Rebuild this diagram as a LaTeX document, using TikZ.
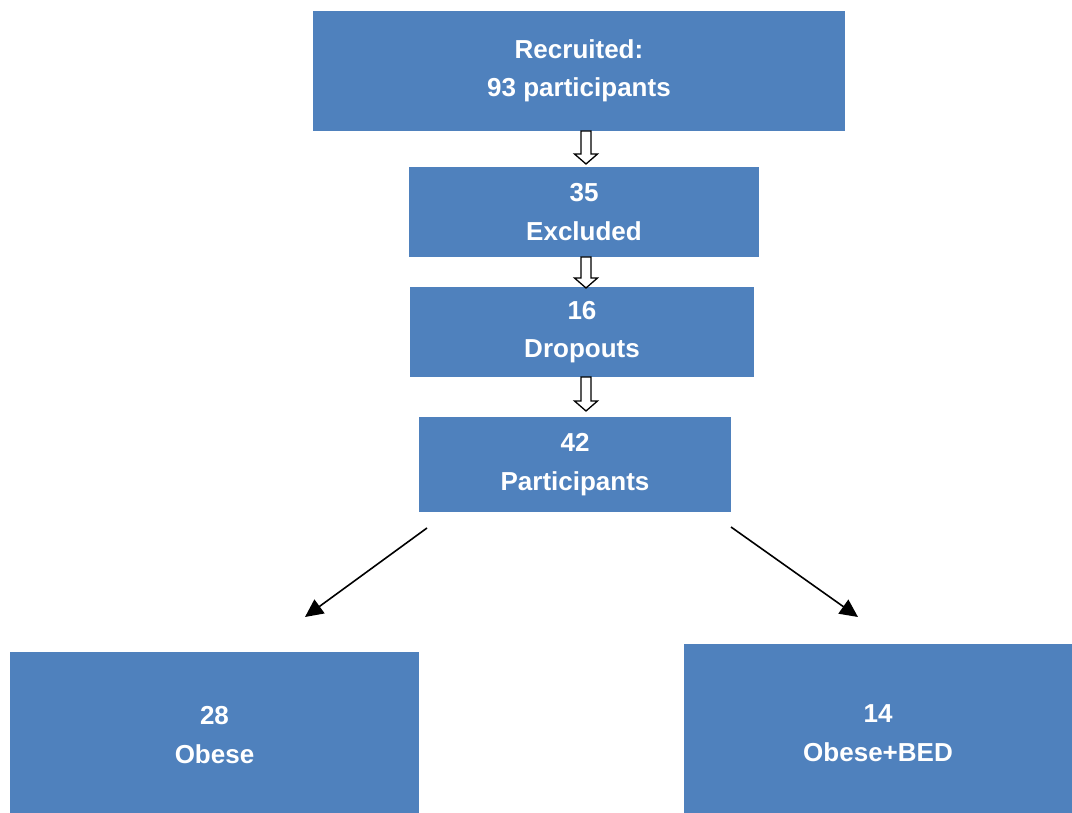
\documentclass[tikz,border=0pt]{standalone}
\usepackage{fontspec}
\setmainfont{Liberation Sans}
\usetikzlibrary{calc,arrows.meta}
\definecolor{boxblue}{HTML}{4F81BD}
\tikzset{
  box/.style={fill=boxblue, draw=none, text=white, font=\bfseries\fontsize{26}{38.5}\selectfont, align=center, inner sep=0pt},
  thinarrow/.style={draw=black, line width=1.6pt, -{Triangle[length=18pt,width=17pt]}},
  hollow/.style={draw=black, fill=white, line width=1.3pt, line join=miter}
}
\newcommand{\hollowarrow}[2]{% top coordinate, bottom coordinate
  \draw[hollow] let \p1=(#1), \p2=(#2) in
    (\x1-5,\y1) -- (\x1+5,\y1) -- (\x1+5,\y2+11) -- (\x1+11.5,\y2+11) -- (\x1,\y2+1)
    -- (\x1-11.5,\y2+11) -- (\x1-5,\y2+11) -- cycle;
}
\begin{document}
\begin{tikzpicture}[x=1pt,y=-1pt]
\useasboundingbox (0,0) rectangle (1072,813);
\node[box, minimum width=532pt, minimum height=120pt] (rec) at (579,71) {Recruited:\\93 participants};
\node[box, minimum width=350pt, minimum height=90pt] (exc) at (584,212) {35\\Excluded};
\node[box, minimum width=344pt, minimum height=90pt] (drop) at (582,332) {16\\Dropouts};
\node[box, minimum width=312pt, minimum height=95pt] (part) at (575,464.5) {42\\Participants};
\node[box, minimum width=409pt, minimum height=166pt] (ob) at (214.5,735) {28\\Obese};
\node[box, minimum width=388pt, minimum height=178pt] (bed) at (878,733) {14\\Obese+BED};

\coordinate (a1t) at (586,131); \coordinate (a1b) at (586,165);
\coordinate (a2t) at (586,257); \coordinate (a2b) at (586,289);
\coordinate (a3t) at (586,377); \coordinate (a3b) at (586,412);
\hollowarrow{a1t}{a1b}
\hollowarrow{a2t}{a2b}
\hollowarrow{a3t}{a3b}

\coordinate (l0) at (427,528); \coordinate (l1) at (305,617);
\coordinate (r0) at (731,527); \coordinate (r1) at (858,617);
\draw[thinarrow] (l0) -- (l1);
\draw[thinarrow] (r0) -- (r1);
\end{tikzpicture}
\end{document}
